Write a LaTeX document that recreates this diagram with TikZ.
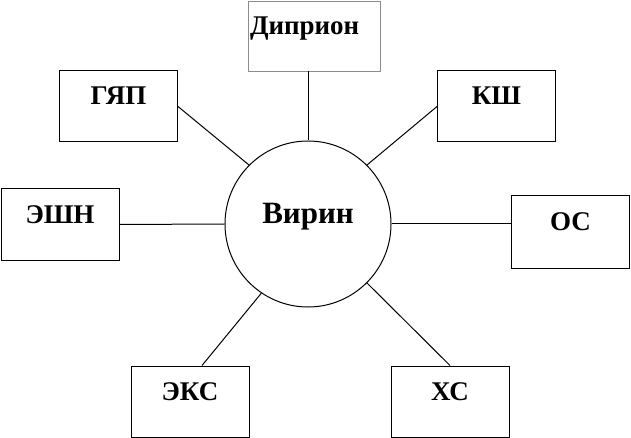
\documentclass[tikz,border=0pt]{standalone}
\usepackage{fontspec}
\setmainfont{Liberation Serif}
\usepackage{tikz}
\usetikzlibrary{positioning, calc}

\begin{document}
\begin{tikzpicture}[x=1pt, y=-1pt]
        \tikzstyle{blok} = [rectangle, draw=black, line width=1pt, inner sep=0pt, minimum width=118pt, minimum height=71pt, text height=34pt, text depth=37pt, font=\fontsize{27}{30}\selectfont\bfseries]
        \tikzstyle{centr} = [circle, draw=black, line width=1pt, inner sep=0pt, minimum size=166pt, text height=20pt, text depth=20pt, font=\fontsize{31}{36}\selectfont\bfseries]
        \tikzstyle{svyaz} = [line width=1pt, black]

        \useasboundingbox (0,0) rectangle (631,438);

        % Nodes
        \node (virin) [centr] at (308,224) {Вирин};
        \node (dipr) [blok, draw=black!45, line width=0.8pt, minimum height=70pt, text width=128pt, inner xsep=2pt, align=left, text depth=36pt] at (314,36) {Диприон};
        \node (gyap) [blok] at (118.5,106.5) {ГЯП};
        \node (ksh) [blok] at (496.5,106.5) {КШ};
        \node (eshn) [blok] at (60,224.5) {ЭШН};
        \node (os) [blok, minimum height=72pt, text depth=38pt] at (570.5,232) {ОС};
        \node (eks) [blok] at (190,401.5) {ЭКС};
        \node (hs) [blok] at (450,401.5) {ХС};

        % Links
        \draw [svyaz] (virin.north) -- (virin.north |- dipr.south);
        \draw [svyaz] (gyap.east) -- (virin.135);
        \draw [svyaz] (ksh.west) -- (virin.45);
        \draw [svyaz] (eshn.east) -- (virin.west);
        \draw [svyaz] (virin.east) -- (virin.east -| os.west);
        \draw [svyaz] ([xshift=12pt]eks.north) -- (virin.236);
        \draw [svyaz] (hs.north) -- (virin.315);
    \end{tikzpicture}
\end{document}
